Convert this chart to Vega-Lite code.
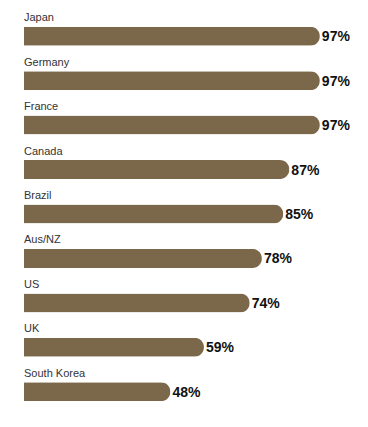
{
  "$schema": "https://vega.github.io/schema/vega-lite/v6.json",
  "autosize": "none",
  "width": 305,
  "height": 400,
  "padding": {"left": 24, "top": 14, "right": 39, "bottom": 13},
  "background": "white",
  "config": {"view": {"stroke": null}},
  "data": {"values": [
    {"country": "Japan", "pct": 97, "label": "97%"},
    {"country": "Germany", "pct": 97, "label": "97%"},
    {"country": "France", "pct": 97, "label": "97%"},
    {"country": "Canada", "pct": 87, "label": "87%"},
    {"country": "Brazil", "pct": 85, "label": "85%"},
    {"country": "Aus/NZ", "pct": 78, "label": "78%"},
    {"country": "US", "pct": 74, "label": "74%"},
    {"country": "UK", "pct": 59, "label": "59%"},
    {"country": "South Korea", "pct": 48, "label": "48%"}
  ]},
  "encoding": {
    "y": {"field": "country", "type": "nominal", "sort": null, "axis": null,
          "scale": {"paddingInner": 0, "paddingOuter": 0}}
  },
  "layer": [
    {
      "mark": {"type": "bar", "size": 19, "cornerRadiusEnd": 9.5, "color": "#7b6749"},
      "encoding": {
        "x": {"field": "pct", "type": "quantitative", "axis": null,
              "scale": {"domain": [0, 100], "nice": false}}
      }
    },
    {
      "mark": {"type": "text", "align": "left", "baseline": "middle", "dy": -18,
               "font": "Liberation Sans", "fontSize": 11, "color": "#333333"},
      "encoding": {
        "x": {"datum": 0, "type": "quantitative", "scale": {"domain": [0, 100], "nice": false}},
        "text": {"field": "country"}
      }
    },
    {
      "mark": {"type": "text", "align": "left", "baseline": "middle", "dx": 2, "dy": 1,
               "font": "Liberation Sans", "fontSize": 14, "fontWeight": "bold", "color": "#111111"},
      "encoding": {
        "x": {"field": "pct", "type": "quantitative", "scale": {"domain": [0, 100], "nice": false}},
        "text": {"field": "label"}
      }
    }
  ]
}
